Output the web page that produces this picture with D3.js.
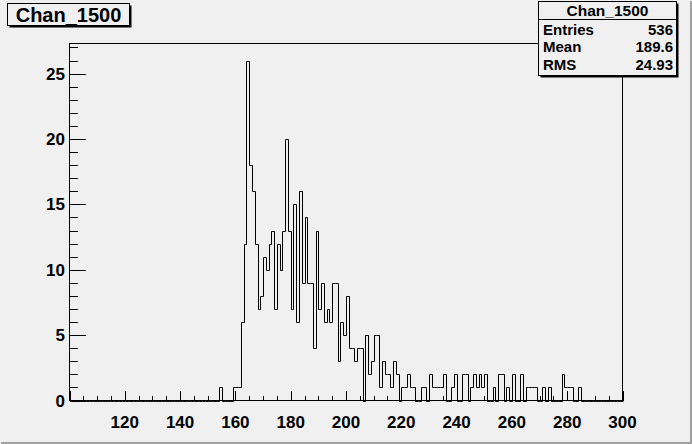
<!DOCTYPE html>
<html>
<head>
<meta charset="utf-8">
<script src="https://cdn.jsdelivr.net/npm/d3@7"></script>
<style>
  html, body { margin: 0; padding: 0; background: #f0f0f0; }
  svg { display: block; }
  text { font-family: "Liberation Sans", Arial, Helvetica, sans-serif; font-weight: bold; fill: #000; }
</style>
</head>
<body>
<svg id="canvas" width="692" height="444"></svg>
<script>
// histogram contents, one entry per unit bin starting at firstBin
const histTitle = "Chan_1500";
const firstBin = 154;
const counts = [
  1, 0, 0, 0, 0, 1, 1, 1, 6, 12,      // 154-163
  26, 18, 16, 12, 7, 8, 11, 10, 12, 13, // 164-173
  7, 12, 10, 13, 20, 13, 7, 15, 6, 16,  // 174-183
  9, 14, 9, 9, 4, 13, 7, 9, 6, 7,       // 184-193
  6, 9, 9, 3, 6, 5, 8, 4, 4, 3,         // 194-203
  4, 4, 0, 5, 2, 3, 5, 5, 1, 3,         // 204-213
  2, 2, 1, 3, 2, 0, 1, 1, 2, 1,         // 214-223
  1, 0, 0, 1, 1, 0, 2, 1, 1, 1,         // 224-233
  1, 2, 0, 0, 1, 2, 0, 0, 2, 2,         // 234-243
  0, 1, 2, 1, 2, 1, 2, 0, 0, 1,         // 244-253
  0, 2, 2, 0, 1, 0, 2, 0, 0, 2,         // 254-263
  0, 1, 1, 1, 1, 0, 0, 1, 0, 1,         // 264-273
  0, 0, 0, 0, 2, 1, 1, 1, 0, 0,         // 274-283
  1                                     // 284
];
const xRange = [100, 300];
const yTop = 27.3;
const xTickLabels = [120, 140, 160, 180, 200, 220, 240, 260, 280, 300];
const yTickLabels = [0, 5, 10, 15, 20, 25];
const statNames = ["Entries", "Mean", "RMS"];
const statValues = ["536", "189.6", "24.93"];

const W = 692, H = 444;
const svg = d3.select("#canvas");

const x = d3.scaleLinear().domain(xRange).range([69.5, 622.5]);
const y = d3.scaleLinear().domain([0, yTop]).range([400.5, 43.5]);

// canvas background + bevel
svg.append("rect").attr("width", W).attr("height", H).attr("fill", "#f0f0f0");
svg.append("path")
    .attr("d", `M1,${H-1} L${W-1},${H-1} L${W-1},1`)
    .attr("fill", "none").attr("stroke", "#a0a0a0").attr("stroke-width", 2);

// frame
svg.append("rect")
    .attr("x", x(xRange[0])).attr("y", y(yTop))
    .attr("width", x(xRange[1]) - x(xRange[0]))
    .attr("height", y(0) - y(yTop))
    .attr("fill", "none").attr("stroke", "#000").attr("shape-rendering", "crispEdges");

// histogram outline (unit bins over the full axis)
let pts = [[xRange[0], 0]];
for (let b = xRange[0]; b < xRange[1]; b++) {
    let c = (b >= firstBin && b < firstBin + counts.length) ? counts[b - firstBin] : 0;
    pts.push([b, c]);
    pts.push([b + 1, c]);
}
pts.push([xRange[1], 0]);
svg.append("path")
    .attr("d", d3.line().x(p => Math.round(x(p[0])) + 0.5).y(p => Math.round(y(p[1])) + 0.5)(pts))
    .attr("fill", "none").attr("stroke", "#000").attr("stroke-width", 1);

// x ticks (inside the frame, major every 20, minor every 5)
const xt = svg.append("g").attr("stroke", "#000").attr("shape-rendering", "crispEdges");
xt.selectAll("line")
    .data(d3.range(xRange[0], xRange[1] + 1, 5))
    .enter().append("line")
    .attr("x1", d => Math.round(x(d)) + 0.5).attr("x2", d => Math.round(x(d)) + 0.5)
    .attr("y1", y(0))
    .attr("y2", d => y(0) - (d % 20 === 0 ? 10 : 5));

svg.selectAll("text.xl")
    .data(xTickLabels)
    .enter().append("text")
    .attr("class", "xl")
    .attr("x", d => x(d))
    .attr("y", 427.5)
    .attr("text-anchor", "middle")
    .attr("font-size", "17px")
    .text(d => d);

// y ticks (major every 5, minor every 1)
const yt = svg.append("g").attr("stroke", "#000").attr("shape-rendering", "crispEdges");
yt.selectAll("line")
    .data(d3.range(0, Math.floor(yTop) + 1, 1))
    .enter().append("line")
    .attr("y1", d => Math.round(y(d)) + 0.5).attr("y2", d => Math.round(y(d)) + 0.5)
    .attr("x1", x(xRange[0]))
    .attr("x2", d => x(xRange[0]) + (d % 5 === 0 ? 16 : 8));

svg.selectAll("text.yl")
    .data(yTickLabels)
    .enter().append("text")
    .attr("class", "yl")
    .attr("x", 65)
    .attr("y", d => y(d) + 6)
    .attr("text-anchor", "end")
    .attr("font-size", "17px")
    .text(d => d);

// pave with shadow (title and stats)
function pave(x0, y0, w, h) {
    svg.append("rect").attr("x", x0 + 2).attr("y", y0 + 2).attr("width", w).attr("height", h)
        .attr("fill", "#000");
    svg.append("rect").attr("x", x0).attr("y", y0).attr("width", w).attr("height", h)
        .attr("fill", "#f0f0f0").attr("stroke", "#000").attr("shape-rendering", "crispEdges");
}
pave(7.5, 3.5, 122, 22);
svg.append("text").attr("x", 68.5).attr("y", 21.5)
    .attr("text-anchor", "middle").attr("font-size", "20px").text(histTitle);

// stats box
pave(538.5, 1.5, 138, 74);
svg.append("line").attr("x1", 538.5).attr("x2", 676.5).attr("y1", 19.5).attr("y2", 19.5)
    .attr("stroke", "#000").attr("shape-rendering", "crispEdges");
svg.append("text").attr("x", 607.5).attr("y", 15.5)
    .attr("text-anchor", "middle").attr("font-size", "15.5px").text(histTitle);

const rowY = d3.scalePoint().domain(statNames).range([34.5, 69.5]);
svg.selectAll("text.sn")
    .data(statNames)
    .enter().append("text")
    .attr("class", "sn")
    .attr("x", 543).attr("y", d => rowY(d))
    .attr("font-size", "15px")
    .text(d => d);
svg.selectAll("text.sv")
    .data(statValues)
    .enter().append("text")
    .attr("class", "sv")
    .attr("x", 673).attr("y", (d, i) => rowY(statNames[i]))
    .attr("text-anchor", "end")
    .attr("font-size", "15px")
    .text(d => d);
</script>
</body>
</html>
